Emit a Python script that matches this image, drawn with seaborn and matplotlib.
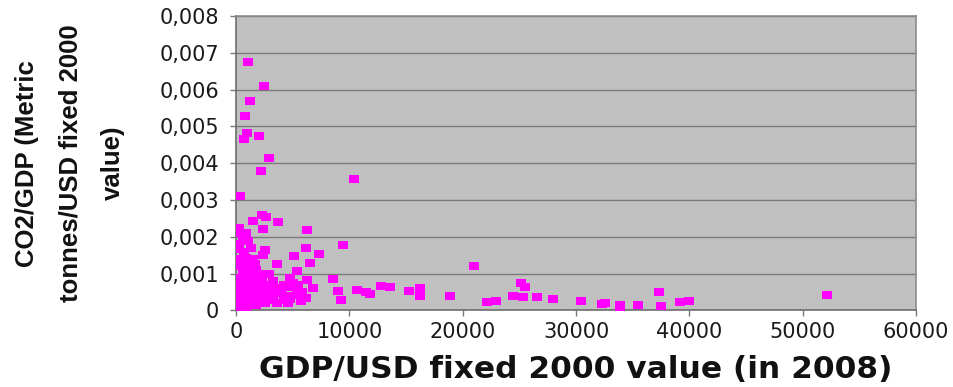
import matplotlib
matplotlib.use("Agg")
import matplotlib.pyplot as plt
from matplotlib.markers import MarkerStyle
from matplotlib.path import Path
from matplotlib.ticker import FuncFormatter
import seaborn as sns
import pandas as pd

# GDP per country (USD, fixed 2000 value, 2008)
gdp = [
    1060, 2500, 1200, 800, 970, 740, 2060, 2910, 2200, 10450, 380,
    2300, 2650, 1520, 3700, 2410, 300, 6230, 880, 590, 9400, 6150,
    2600, 300, 1320, 7350, 5150, 2350, 880, 6550, 3620, 20990, 150,
    590, 1520, 5400, 150, 2050, 8520, 4760, 6300, 5050, 150, 880,
    2050, 2700, 4470, 6810, 5350, 9040, 150, 1170, 2350, 3880, 5350,
    6200, 9300, 500, 150, 1200, 3150, 4250, 290,
    100, 400, 700, 1000, 1300, 1600, 1900, 450, 700, 1000, 1700,
    2500, 3000, 3300, 4000, 4500, 5800, 2900, 3300, 600, 900, 1800,
    2600, 4800, 5700, 300, 1100, 1300, 400, 1700,
    200, 200, 600, 1500, 1800, 2200, 2300, 800, 1200, 1500,
    2700, 3500, 4200, 4600, 5500, 2000, 1400, 3600, 800, 2200,
    10700, 11450, 11800, 12750, 13600, 15250, 16250, 16200, 18900,
    22150, 22900, 24430, 25170, 25460, 25310, 26550, 27960, 30450,
    32300, 32600, 33840, 33840, 35450, 37350, 37500, 39180, 40000,
    52130,
]

# CO2 emissions per unit of GDP (metric tonnes / USD)
co2_per_gdp = [
    0.00676, 0.00610, 0.00569, 0.00529, 0.00481, 0.00465, 0.00473,
    0.00413, 0.00380, 0.00358, 0.00312,
    0.00260, 0.00255, 0.00242, 0.00240, 0.00222, 0.00224, 0.00220,
    0.00210, 0.00190, 0.00177, 0.00170, 0.00165, 0.00167, 0.00170,
    0.00153, 0.00147, 0.00150, 0.00143, 0.00128, 0.00125, 0.00120,
    0.00120, 0.00106, 0.00110, 0.00106, 0.00088, 0.00092, 0.00086,
    0.00088, 0.00083, 0.00074, 0.00065, 0.00070, 0.00065, 0.00070,
    0.00065, 0.00062, 0.00056, 0.00054, 0.00038, 0.00038, 0.00043,
    0.00047, 0.00043, 0.00034, 0.00028, 0.00029, 0.00015, 0.00020,
    0.00029, 0.00029, 0.00010,
    0.00050, 0.00080, 0.00040, 0.00090, 0.00060, 0.00030, 0.00080,
    0.00125, 0.00160, 0.00130, 0.00050, 0.00050, 0.00060, 0.00040,
    0.00050, 0.00040, 0.00050, 0.00100, 0.00080, 0.00020, 0.00010,
    0.00015, 0.00020, 0.00030, 0.00025, 0.00140, 0.00190, 0.00100,
    0.00055, 0.00125,
    0.00180, 0.00210, 0.00140, 0.00140, 0.00110, 0.00100, 0.00080,
    0.00090, 0.00070, 0.00080, 0.00030, 0.00060, 0.00070, 0.00020,
    0.00070, 0.00030, 0.00020, 0.00020, 0.00050, 0.00060,
    0.00055, 0.00050, 0.00045, 0.00067, 0.00064, 0.00052, 0.00062,
    0.00040, 0.00040, 0.00024, 0.00026, 0.00040, 0.00074, 0.00064,
    0.00038, 0.00036, 0.00031, 0.00027, 0.00018, 0.00021, 0.00015,
    0.00006, 0.00015, 0.00049, 0.00013, 0.00024, 0.00027, 0.00043,
]

x_ticks = [0, 10000, 20000, 30000, 40000, 50000, 60000]
y_ticks = [0, 0.001, 0.002, 0.003, 0.004, 0.005, 0.006, 0.007, 0.008]

x_title = "GDP/USD fixed 2000 value (in 2008)"
y_title = "CO2/GDP (Metric\ntonnes/USD fixed 2000\nvalue)"

df = pd.DataFrame({"gdp": gdp, "co2": co2_per_gdp})

sns.set_style("white", {"axes.facecolor": "#c0c0c0"})
plt.rcParams["font.family"] = ["DejaVu Sans"]

fig = plt.figure(figsize=(9.54, 3.87), dpi=100)
ax = fig.add_axes([0.2474, 0.1977, 0.9602 - 0.2474, 0.9587 - 0.1977])

# flat rectangular marker
rect = Path([(-0.5, -0.33), (0.5, -0.33), (0.5, 0.33), (-0.5, 0.33), (-0.5, -0.33)],
            [Path.MOVETO, Path.LINETO, Path.LINETO, Path.LINETO, Path.CLOSEPOLY])
sns.scatterplot(data=df, x="gdp", y="co2", ax=ax, marker=MarkerStyle(rect),
                s=62, color="#ff00ff", linewidth=0, alpha=1, zorder=3)

ax.set_xlim(x_ticks[0], x_ticks[-1])
ax.set_ylim(y_ticks[0], y_ticks[-1])
ax.set_xticks(x_ticks)
ax.set_yticks(y_ticks)
ax.yaxis.set_major_formatter(FuncFormatter(
    lambda v, _: "0" if abs(v) < 1e-12 else f"{v:.3f}".replace(".", ",")))
ax.xaxis.set_major_formatter(FuncFormatter(lambda v, _: f"{int(round(v))}"))

ax.grid(axis="y", color="#7a7a7a", linewidth=1.0, zorder=0)
ax.grid(axis="x", visible=False)
ax.set_axisbelow(True)

for side in ("left", "bottom"):
    ax.spines[side].set_color("#6e6e6e")
    ax.spines[side].set_linewidth(1.2)
for side in ("top", "right"):
    ax.spines[side].set_visible(True)
    ax.spines[side].set_color("#8c8c8c")
    ax.spines[side].set_linewidth(1.2)

ax.tick_params(axis="both", which="major", direction="out", length=4, width=1,
               color="#7a7a7a", labelsize=15, labelcolor="#1a1a1a", pad=4,
               left=True, bottom=True)
ax.tick_params(axis="y", pad=8)

ax.set_xlabel(x_title, fontsize=22.5, fontweight="bold", labelpad=10, color="#111111")
ax.set_ylabel(y_title, family=["Liberation Sans", "DejaVu Sans"], fontsize=18.5,
              fontweight="bold", color="#111111", va="center", ha="center",
              linespacing=2.0)
ax.yaxis.set_label_coords(-0.244, 0.5)

fig.savefig("out.png", dpi=100)
